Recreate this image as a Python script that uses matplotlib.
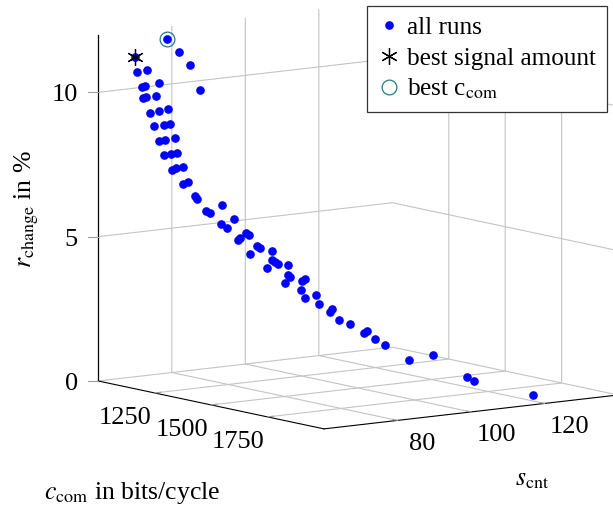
import numpy as np
import matplotlib
matplotlib.use("Agg")
import matplotlib.pyplot as plt
from matplotlib.lines import Line2D
from mpl_toolkits.mplot3d import proj3d

# ---------------- data ----------------
c_com = [1010, 1098, 1046, 1082, 1107, 1106, 1120, 1112, 1125, 1155,
         1115, 1129, 1143, 1132, 1153, 1162, 1131, 1159, 1169, 1156,
         1166, 1178, 1163, 1175, 1186, 1180, 1183, 1194, 1196, 1200,
         1215, 1226, 1273, 1235, 1249, 1269, 1275, 1294, 1309, 1300,
         1329, 1325, 1331, 1346, 1344, 1377, 1355, 1377, 1374, 1389,
         1402, 1402, 1408, 1403, 1432, 1444, 1424, 1459, 1444, 1475,
         1488, 1498, 1515, 1530, 1559, 1554, 1573, 1602, 1644, 1700,
         1755, 1771, 1901]
s_cnt = [78, 64, 79, 80, 81, 64, 66, 65, 65, 67,
         65, 65, 67, 66, 67, 69, 67, 68, 69, 67,
         68, 70, 68, 69, 70, 69, 70, 71, 71, 72,
         73, 73, 77, 75, 75, 77, 78, 79, 79, 80,
         80, 81, 81, 82, 83, 84, 84, 84, 85, 85,
         87, 87, 87, 86, 89, 89, 89, 91, 89, 91,
         93, 93, 94, 96, 98, 99, 100, 101, 105, 108,
         114, 115, 123]
r_change = [11.60, 11.34, 11.19, 10.80, 9.94, 10.82, 10.87, 10.30, 10.35, 10.47,
            9.92, 9.98, 10.02, 9.42, 9.51, 9.56, 8.95, 9.01, 9.05, 8.47,
            8.51, 8.57, 7.98, 8.02, 8.07, 7.48, 7.52, 7.56, 6.99, 7.06,
            6.57, 6.49, 6.29, 6.07, 6.02, 5.62, 5.48, 5.81, 5.12, 5.16,
            5.37, 5.29, 4.64, 4.93, 4.83, 4.77, 4.14, 4.45, 4.39, 4.33,
            4.28, 3.94, 3.88, 3.69, 3.77, 3.83, 3.43, 3.29, 3.20, 2.99,
            2.71, 2.84, 2.48, 2.33, 2.02, 2.08, 1.83, 1.63, 1.13, 1.35,
            0.60, 0.46, 0.09]
best_signal_idx = 1
best_ccom_idx = 0

x_ticks = [1250, 1500, 1750]
y_ticks = [80, 100, 120]
z_ticks = [0, 5, 10]
x_range = (1000, 2000)
y_range = (60, 140)
z_range = (0, 12)

# ---------------- style ----------------
plt.rcParams['font.family'] = ['Liberation Serif', 'DejaVu Serif']
plt.rcParams['mathtext.fontset'] = 'stix'
plt.rcParams['grid.color'] = '#c4c4c4'
plt.rcParams['grid.linewidth'] = 0.8

TICK_FS = 19
LABEL_FS = 18.5
LEG_FS = 18.2
TICK_COLOR = '#a0a0a0'

W, H = 613, 507
fig = plt.figure(figsize=(W / 100, H / 100), dpi=100)
ax = fig.add_axes([0, 0, 1, 1], projection='3d', proj_type='ortho')
ax.computed_zorder = False
ax.view_init(elev=9, azim=-36.4)
ax.set_box_aspect((1.041, 1.0, 0.960))
ax.set_xlim(*x_range)
ax.set_ylim(*y_range)
ax.set_zlim(*z_range)
ax.set_xticks(x_ticks)
ax.set_yticks(y_ticks)
ax.set_zticks(z_ticks)

for axis in (ax.xaxis, ax.yaxis, ax.zaxis):
    axis.set_pane_color((1, 1, 1, 0))
    axis.pane.set_edgecolor('none')
    axis._axinfo['tick']['inward_factor'] = 0.0
    axis._axinfo['tick']['outward_factor'] = 0.25
    axis._axinfo['grid']['color'] = '#c4c4c4'
    axis._axinfo['grid']['linewidth'] = 0.8
    axis._axinfo['axisline']['color'] = 'black'
    axis._axinfo['axisline']['linewidth'] = 0.9
    axis.set_ticklabels([])
ax.tick_params(axis='both', which='major', colors=TICK_COLOR)
# z axis line + ticks are drawn on the left edge explicitly below
ax.zaxis._axinfo['tick']['outward_factor'] = 0.0
ax.zaxis.line.set_visible(False)

# left vertical axis line (edge of the box at x=min, y=min)
ax.plot([x_range[0], x_range[0]], [y_range[0], y_range[0]], list(z_range),
        color='black', lw=0.9, zorder=2)

# data
ax.plot(c_com, s_cnt, r_change, ls='none', marker='o', color='blue',
        markersize=5.2, zorder=3)
ax.plot([c_com[best_signal_idx]], [s_cnt[best_signal_idx]], [r_change[best_signal_idx]],
        ls='none', marker=(6, 2, 0), color='black', markersize=12, mew=0.9, zorder=4)
ax.plot([c_com[best_ccom_idx]], [s_cnt[best_ccom_idx]], [r_change[best_ccom_idx]],
        ls='none', marker='o', mfc='none', mec='#1f7f7f', markersize=10.6, mew=0.9, zorder=4)


# ---------------- fit frame to layout ----------------
def to_px(x, y, z):
    M = ax.get_proj()
    xs, ys, _ = proj3d.proj_transform(np.atleast_1d(float(x)), np.atleast_1d(float(y)),
                                      np.atleast_1d(float(z)), M)
    return ax.transData.transform(np.column_stack([xs, ys]))[0]


def set_sq(cx, cy, S):
    ax.set_position([(cx - S / 2) / W, (cy - S / 2) / H, S / W, S / H])


target_A = np.array([98.3, H - 381.0])
target_h = 346.4
cx, cy, S = W / 2, H / 2, 480.0
set_sq(cx, cy, S)
fig.canvas.draw()
for _ in range(3):
    A = to_px(x_range[0], y_range[0], z_range[0])
    C = to_px(x_range[0], y_range[0], z_range[1])
    f = target_h / np.hypot(*(C - A))
    S *= f
    ctr = np.array([cx, cy])
    A2 = ctr + f * (A - ctr)
    cx += target_A[0] - A2[0]
    cy += target_A[1] - A2[1]
    set_sq(cx, cy, S)
    fig.canvas.draw()

# ---------------- tick labels ----------------
for t in x_ticks:
    px, py = to_px(t, y_range[0], z_range[0])
    fig.text((px - 29.5) / W, (py - 25) / H, f'{t}', fontsize=TICK_FS,
             ha='center', va='center')
for t in y_ticks:
    px, py = to_px(x_range[1], t, z_range[0])
    fig.text((px + 25) / W, (py - 23.5) / H, f'{t}', fontsize=TICK_FS,
             ha='center', va='center')
for t in z_ticks:
    px, py = to_px(x_range[0], y_range[0], t)
    fig.add_artist(Line2D([(px - 10) / W, px / W], [py / H, py / H],
                          transform=fig.transFigure, color=TICK_COLOR, lw=0.8))
    fig.text((px - 20.5) / W, (py - 3) / H, f'{t}', fontsize=TICK_FS,
             ha='right', va='center')

# ---------------- axis labels ----------------
fig.text(132 / W, 1 - 493 / H, r'$c_{\mathrm{com}}$ in bits/cycle', fontsize=LABEL_FS,
         ha='center', va='center')
fig.text(532 / W, 1 - 480 / H, r'$s_{\mathrm{cnt}}$', fontsize=LABEL_FS,
         ha='center', va='center')
fig.text(27 / W, 1 - 209 / H, r'$r_{\mathrm{change}}$ in %', fontsize=LABEL_FS,
         ha='center', va='center', rotation=90)

handles = [
    Line2D([], [], ls='none', marker='o', color='blue', markersize=5.2),
    Line2D([], [], ls='none', marker=(6, 2, 0), color='black', markersize=12, mew=0.9),
    Line2D([], [], ls='none', marker='o', mfc='none', mec='#1f7f7f', markersize=10.6, mew=0.9),
]
labels = ['all runs', 'best signal amount', r'best c$_{\mathrm{com}}$']
leg = fig.legend(handles, labels, loc='upper right',
                 bbox_to_anchor=(606.7 / W, 1 - 6 / H), fontsize=LEG_FS,
                 frameon=True, fancybox=False, framealpha=1, edgecolor='#333333',
                 borderaxespad=0, handlelength=0.9, handletextpad=0.25,
                 borderpad=0.42, labelspacing=0.3)
leg.get_frame().set_linewidth(0.9)

fig.savefig('out.png', dpi=100, facecolor='white')
